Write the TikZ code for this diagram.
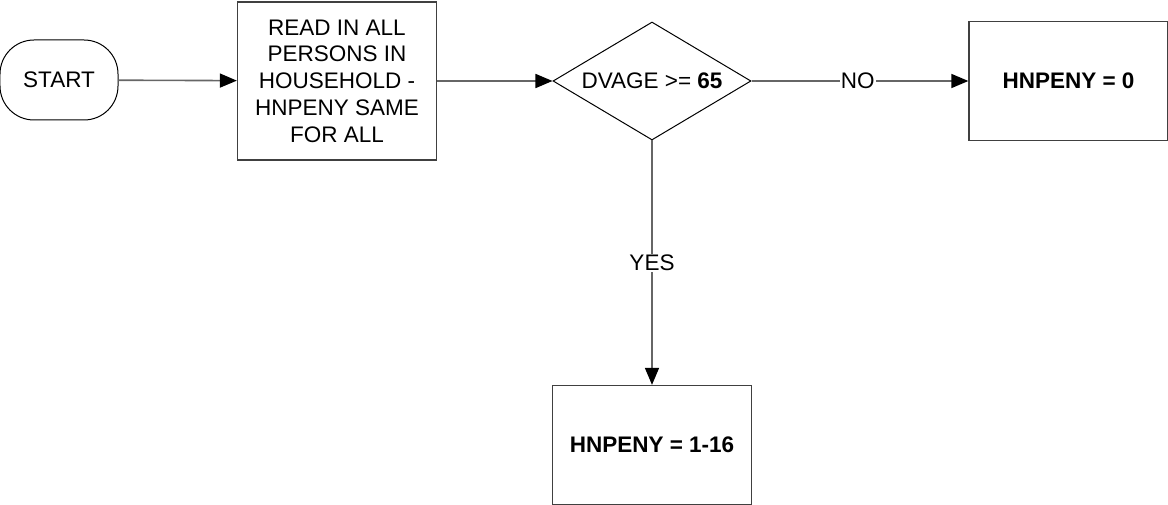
\documentclass[tikz,border=0pt]{standalone}
\usepackage{fontspec}
\setmainfont{Liberation Sans}
\usetikzlibrary{shapes.geometric,arrows.meta}
\begin{document}
\begin{tikzpicture}[x=1pt, y=1pt, node distance=278pt,
        font=\fontsize{22.5}{26.7}\selectfont,
        terminal/.style={rectangle, draw=black, line width=1pt, rounded corners=34pt, minimum width=118pt, minimum height=80pt},
        block/.style={rectangle, draw=black!75, line width=1.3pt, align=center, minimum width=199pt, minimum height=119pt, inner sep=2pt},
        decision/.style={diamond, draw=black, line width=1pt, aspect=1.68, minimum width=198pt, minimum height=118pt, inner sep=1pt},
        flow/.style={draw=black!60, line width=1.6pt, -{Triangle[length=17pt, width=14pt, black]}},
        answer/.style={fill=white, inner sep=1pt}]
        \useasboundingbox (-59,80) rectangle (1109,-425);
        \node[terminal] (start) {START};
        \node[block, right of=start, minimum height=158pt, yshift=-1pt] (read) {READ IN ALL\\PERSONS IN\\HOUSEHOLD -\\HNPENY SAME\\FOR ALL};
        \node[decision, right of=read, node distance=315pt] (age) {DVAGE >= \textbf{65}};
        \node[block, right of=age, node distance=416.5pt] (none) {\textbf{HNPENY = 0}};
        \node[block, below of=age, node distance=364pt] (some) {\textbf{HNPENY = 1-16}};
        \draw[flow] (start) -- (read);
        \draw[flow] (read) -- (age);
        \draw[flow] (age) -- node[answer, pos=0.49] {NO} (none);
        \draw[flow] (age) -- node[answer, pos=0.5] {YES} (some);
    \end{tikzpicture}
\end{document}
